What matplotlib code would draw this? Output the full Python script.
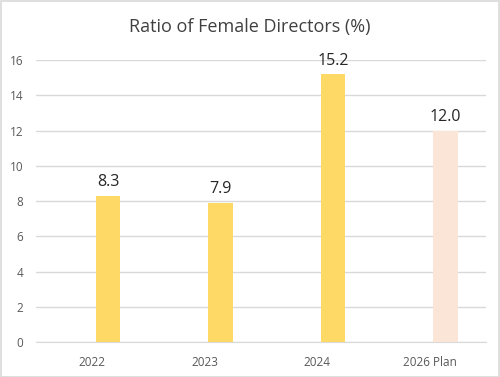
import matplotlib
matplotlib.use("Agg")
import matplotlib.pyplot as plt
from matplotlib.patches import Rectangle

categories = ["2022", "2023", "2024", "2026 Plan"]
values = [8.3, 7.9, 15.2, 12.0]
labels = ["8.3", "7.9", "15.2", "12.0"]
colors = ["#FFD966", "#FFD966", "#FFD966", "#FBE5D6"]
yticks = [0, 2, 4, 6, 8, 10, 12, 14, 16]

plt.rcParams['font.family'] = ['Open Sans', 'DejaVu Sans']

fig = plt.figure(figsize=(5, 3.77), dpi=100)
ax = fig.add_axes([0.072, 0.0928, 0.9, 0.748])

x = list(range(len(categories)))
offset = 0.14  # clustered-bar offset as in the source chart
bx = [xi + offset for xi in x]
ax.bar(bx, values, width=0.222, color=colors, zorder=3)
for xi, v, lab in zip(bx, values, labels):
    ax.annotate(lab, (xi, v), xytext=(0, 4), textcoords="offset points",
                ha="center", va="bottom", fontsize=11.5, color="#262626")

ax.set_xlim(-0.5, len(categories) - 0.5)
ax.set_ylim(0, 16)
ax.set_yticks(yticks)
ax.set_yticklabels([str(t) for t in yticks])
ax.set_xticks(x)
ax.set_xticklabels(categories)
ax.grid(axis="y", color="#D9D9D9", linewidth=1, zorder=0)
for s in ["top", "right", "left"]:
    ax.spines[s].set_visible(False)
ax.spines["bottom"].set_color("#D9D9D9")
ax.tick_params(axis="both", length=0, colors="#595959", labelsize=8.5)
ax.tick_params(axis="x", pad=10)
ax.tick_params(axis="y", pad=9)

fig.text(0.5, 1 - 27 / 377, "Ratio of Female Directors (%)", ha="center", va="center",
         fontsize=13, color="#404040")

fig.patches.append(Rectangle((0.001, 0.001), 0.997, 0.997, transform=fig.transFigure,
                             fill=False, edgecolor="#D9D9D9", linewidth=1.2))

fig.savefig("out.png", dpi=100)
